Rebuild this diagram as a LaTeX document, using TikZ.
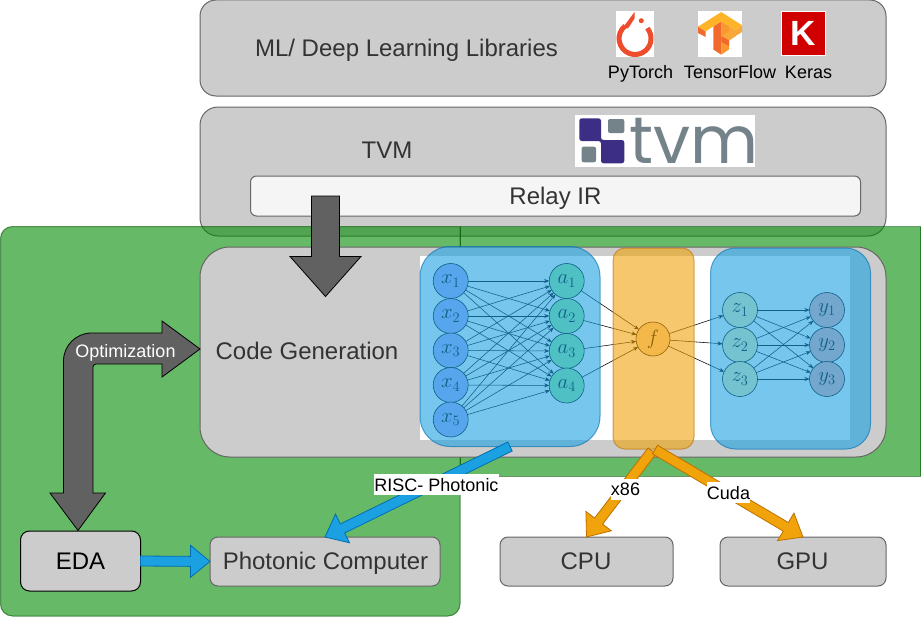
\documentclass[tikz,border=0pt]{standalone}
\usepackage[no-math]{fontspec}
\setmainfont{Liberation Sans}
\newfontfamily\logofont{Poppins}
\usetikzlibrary{calc,arrows.meta}
\definecolor{boxgray}{HTML}{CCCCCC}
\definecolor{boxline}{HTML}{666666}
\definecolor{txtgray}{HTML}{333333}
\definecolor{greenfill}{HTML}{008A00}
\definecolor{greenline}{HTML}{005700}
\definecolor{blueov}{HTML}{1BA1E2}
\definecolor{blueline}{HTML}{006EAF}
\definecolor{orangeov}{HTML}{F0A30A}
\definecolor{orangeline}{HTML}{BD7000}
\definecolor{darkarrow}{HTML}{616161}
\definecolor{tvmgray}{HTML}{74838A}
\definecolor{tvmnavy}{HTML}{3C2E84}
\definecolor{ptorange}{HTML}{EE4C2C}
\definecolor{tfdark}{HTML}{F26A2B}
\definecolor{tfmid}{HTML}{F8982F}
\definecolor{tflight}{HTML}{F8A83A}
\definecolor{tftop}{HTML}{FFB328}
\definecolor{kerasred}{HTML}{D00000}
\definecolor{nx}{HTML}{AFADFF}
\definecolor{na}{HTML}{9DF197}
\definecolor{nz}{HTML}{FCF8B5}
\definecolor{ny}{HTML}{FAB0B2}
\definecolor{nf}{HTML}{FCD7AC}
\tikzset{
  x=1pt,y=-1pt,
  box/.style={rectangle,draw=boxline,fill=boxgray,line width=1pt,inner sep=0pt,outer sep=0pt},
  lab/.style={anchor=base,text=txtgray,font=\fontsize{24}{28}\selectfont,inner sep=0pt},
  smalllab/.style={anchor=base,text=black,font=\fontsize{18}{21}\selectfont,inner sep=0pt},
  edgelab/.style={anchor=base,text=black,fill=white,font=\fontsize{18}{21}\selectfont,inner xsep=0pt,inner ysep=1pt,text height=16pt,text depth=3pt},
  neuron/.style={circle,draw=black,line width=.6pt,minimum size=35pt,inner sep=0pt,outer sep=0pt,font=\fontsize{20.74}{24}\selectfont},
  nnedge/.style={draw=black,line width=.55pt,-{Stealth[length=5pt,width=4pt]}},
  overlayblue/.style={rectangle,fill=blueov,draw=blueline,fill opacity=.6,draw opacity=.6,line width=1pt,inner sep=0pt,outer sep=0pt},
  overlayorange/.style={rectangle,fill=orangeov,draw=orangeline,fill opacity=.6,draw opacity=.6,line width=1pt,inner sep=0pt,outer sep=0pt},
  greenzone/.style={fill=greenfill,draw=greenline,fill opacity=.6,draw opacity=.6,line width=1pt},
  blockarrow/.style n args={3}{line width=.8pt,line join=miter,to path={
    ($(\tikztostart)!#1!90:(\tikztotarget)$) --
    ($($(\tikztotarget)!#3!(\tikztostart)$)!#1!90:(\tikztotarget)$) --
    ($($(\tikztotarget)!#3!(\tikztostart)$)!#2!90:(\tikztotarget)$) --
    (\tikztotarget) --
    ($($(\tikztotarget)!#3!(\tikztostart)$)!#2!-90:(\tikztotarget)$) --
    ($($(\tikztotarget)!#3!(\tikztostart)$)!#1!-90:(\tikztotarget)$) --
    ($(\tikztostart)!#1!-90:(\tikztotarget)$) -- cycle}},
  orangearrow/.style={blockarrow={5pt}{16pt}{20pt},draw=orangeline,fill=orangeov},
  bluearrow/.style={blockarrow={5pt}{16pt}{19.5pt},draw=blueline,fill=blueov},
  grayarrow/.style={blockarrow={14pt}{35.5pt}{40pt},draw=black,fill=darkarrow},
}
\begin{document}
\begin{tikzpicture}
\useasboundingbox (0,0) rectangle (921,618);
% top boxes
\node[box,rounded corners=16pt,minimum width=686pt,minimum height=96pt] (libs) at (543,48) {};
\node[box,rounded corners=18pt,minimum width=686pt,minimum height=129pt] (tvm) at (543,171.5) {};
\node[box,fill=white!96!black,rounded corners=6pt,minimum width=610pt,minimum height=40pt] (relay) at (555.5,196) {};
% green zones
\path[greenzone] [sharp corners] (460,226.5) [rounded corners=12pt] -- (.5,226.5) -- (.5,616) -- (460,616) [sharp corners] -- cycle;
\path[greenzone] (460,226.5) rectangle (920.5,476);
% code generation
\node[box,rounded corners=30pt,minimum width=686pt,minimum height=210pt] (codegen) at (543,352) {};
\fill[white] (420,256) rectangle (850,440);
% neural net
\foreach \n/\yy in {1/281,2/316,3/350.5,4/385,5/419.5}
  \node[neuron,fill=nx] (x\n) at (450.7,\yy) {$x_{\n}$};
\foreach \n/\yy in {1/281,2/316,3/351,4/385.5}
  \node[neuron,fill=na] (a\n) at (566.7,\yy) {$a_{\n}$};
\node[neuron,minimum size=34pt,fill=nf] (f) at (653,339) {$f$};
\foreach \n/\yy in {1/310,2/345,3/379}
  \node[neuron,fill=nz] (z\n) at (740,\yy) {$z_{\n}$};
\foreach \n/\yy in {1/310,2/345,3/379}
  \node[neuron,fill=ny] (y\n) at (827,\yy) {$y_{\n}$};
\foreach \i in {1,...,5} \foreach \j in {1,...,4} \draw[nnedge] (x\i) -- (a\j);
\foreach \j in {1,...,4} \draw[nnedge] (a\j) -- (f);
\foreach \j in {1,...,3} \draw[nnedge] (f) -- (z\j);
\foreach \i in {1,...,3} \foreach \j in {1,...,3} \draw[nnedge] (z\i) -- (y\j);
% overlays
\node[overlayblue,rounded corners=30pt,minimum width=180pt,minimum height=200pt] (blueleft) at (510,346.5) {};
\node[overlayorange,rounded corners=12pt,minimum width=81pt,minimum height=201pt] (orangemid) at (653.5,348.5) {};
\node[overlayblue,rounded corners=25pt,minimum width=160pt,minimum height=201pt] (blueright) at (790.5,348.5) {};
% logos
\fill[white] (616,11) rectangle (654,57);
\fill[white] (698,11) rectangle (742,57);
\fill[white] (575,115) rectangle (755,167);
% pytorch
\draw[ptorange,line width=5pt] (647.3,28.2) arc[start angle=-40,end angle=232,radius=16];
\fill[ptorange] (623,27.5) -- (634.5,12) -- (634.5,18.5) -- (628,28.5) -- cycle;
\fill[ptorange] (641.3,20.7) circle (2.5);
% tensorflow
\fill[tfmid] (721.3,21.3) -- (729,26) -- (729,49.5) -- (721.3,54.7) -- cycle;
\fill[tfdark] (713.3,26.4) -- (721.3,21.3) -- (721.3,54.7) -- (713.3,49.5) -- cycle;
\fill[tfdark] (698,26.7) -- (698,33) -- (705.7,37) -- (705.7,31.3) -- cycle;
\fill[tflight] (729,26) -- (735.7,30) -- (742,25.3) -- (742,32) -- (729,40) -- cycle;
\fill[tflight] (721.3,36) -- (729,31.5) -- (736,36) -- (729,40.5) -- cycle;
\fill[tfdark] (721.3,36) -- (729,40.5) -- (729,46) -- (721.3,42) -- cycle;
\fill[tftop] (698,26.7) -- (721.3,12) -- (742,25.3) -- (735.7,30) -- (721.3,21.3) -- (705.7,31.3) -- cycle;
% keras
\node[rectangle,draw=white,line width=.4pt,fill=kerasred,minimum width=44pt,minimum height=44pt,inner sep=0pt,text=white,font=\bfseries\fontsize{35}{35}\selectfont] (keraslogo) at (803,33.5) {K};
% tvm logo
\fill[tvmnavy,rounded corners=2.5pt] (579.3,118.3) -- (601,118.3) -- (601,140) -- (624.3,140) -- (624.3,163.3) -- (601,163.3) -- (601,141) -- (579.3,141) -- cycle;
\fill[tvmgray,rounded corners=2pt] (608,119) rectangle (624.3,133);
\fill[tvmgray,rounded corners=2pt] (581.7,146.7) rectangle (596,162.3);
\node[text=tvmgray,font=\logofont\fontsize{66}{66}\selectfont,inner sep=0pt,anchor=base] (tvmword) at (694,163) {tvm};
% remaining boxes
\node[box,draw=black,rounded corners=9pt,minimum width=120pt,minimum height=60pt] (eda) at (80.5,561) {};
\node[box,rounded corners=8pt,minimum width=230pt,minimum height=49pt] (photonic) at (325,561.5) {};
\node[box,rounded corners=8pt,minimum width=173pt,minimum height=49pt] (cpu) at (586.5,561.5) {};
\node[box,rounded corners=8pt,minimum width=166pt,minimum height=49pt] (gpu) at (803,561.5) {};
% free ends of the block connectors
\coordinate (irstart) at (325.5,196);
\coordinate (irend) at (325.5,296.5);
\coordinate (riscstart) at (510,446.5);
\coordinate (x86start) at (652,451);
\coordinate (cudastart) at (655,449.5);
% connectors
\draw[grayarrow] (irstart) to (irend);
\draw[bluearrow] (eda.east) to (photonic.west);
\draw[bluearrow] (riscstart) to (photonic.north);
\draw[orangearrow] (x86start) to (cpu.north);
\draw[orangearrow] (cudastart) to (gpu.north);
\coordinate (opttip) at (codegen.west |- 0,349);
\coordinate (edatip) at ($(eda.north)+(-2.5,-.5)$);
\draw[draw=black,fill=darkarrow,line width=.8pt] (opttip) -- (162,321) -- (162,333)
  [rounded corners=28pt] -- (63.5,333) [sharp corners] -- (63.5,493) -- (50,493) -- (edatip) -- (105.5,493) -- (93,493)
  [rounded corners=3pt] -- (93,364) [sharp corners] -- (162,364) -- (162,377) -- cycle;
% labels
\node[lab] (mltext) at (406.5,56.5) {ML/ Deep Learning Libraries};
\node[smalllab] (pytorchtext) at (640.5,78.7) {PyTorch};
\node[smalllab] (tftext) at (730,78.7) {TensorFlow};
\node[smalllab] (kerastext) at (808.5,78.7) {Keras};
\node[lab] (tvmtext) at (387,158) {TVM};
\node[lab] (relaytext) at (555.5,204) {Relay IR};
\node[lab] (codetext) at (307,359) {Code Generation};
\node[smalllab,text=white] (opttext) at (125.5,357.3) {Optimization};
\node[lab,text=black] (edatext) at (80.5,569) {EDA};
\node[lab] (phototext) at (325.5,569) {Photonic Computer};
\node[lab] (cputext) at (586,569) {CPU};
\node[lab] (gputext) at (802.5,569) {GPU};
\node[edgelab] (risclab) at (436.5,491) {RISC- Photonic};
\node[edgelab] (x86lab) at (625.5,495.7) {x86};
\node[edgelab] (cudalab) at (728.5,499) {Cuda};
\end{tikzpicture}
\end{document}
